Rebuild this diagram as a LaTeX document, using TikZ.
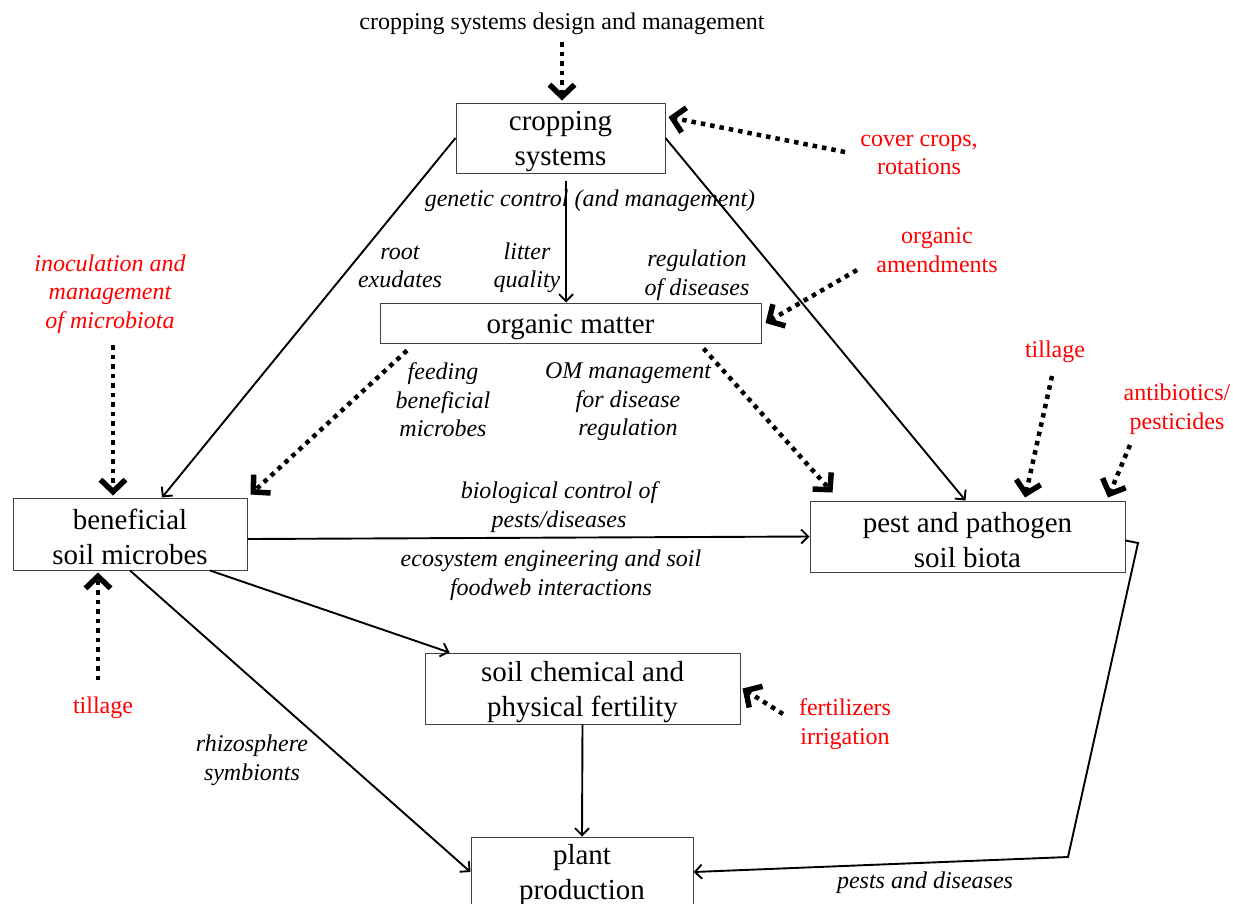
\documentclass[tikz,border=0pt]{standalone}
\usepackage{fontspec}
\setmainfont{Liberation Serif}
\usetikzlibrary{arrows.meta}
\newcommand\boxstrut{\rule{0pt}{26.5pt}}
\tikzset{
  box/.style={draw=black!75, line width=1pt, align=center, inner sep=0pt,
    font=\fontsize{29}{35}\selectfont},
  lbl/.style={align=center, inner sep=0pt, yshift=-3pt, font=\fontsize{24}{28.5}\selectfont\itshape},
  redlbl/.style={align=center, inner sep=0pt, yshift=-3pt, text=red, font=\fontsize{24}{28.5}\selectfont},
  plainlbl/.style={align=center, inner sep=0pt, yshift=-2pt, font=\fontsize{24}{28.5}\selectfont},
  solidarrow/.style={line width=1.9pt, -{Straight Barb[length=7pt,width=14pt,line width=1.9pt]}},
  dotarrow/.style={line width=4.5pt, dash pattern=on 4.5pt off 5pt,
    -{Straight Barb[length=12pt,width=25pt,line width=5.5pt]}}
}
\begin{document}
\begin{tikzpicture}[x=1pt,y=-1pt]
\useasboundingbox (0,0) rectangle (1233,903);

% boxes
\node[box, minimum width=209pt, minimum height=70pt] (cs) at (560.5,138) {\boxstrut cropping\\systems};
\node[box, minimum width=381pt, minimum height=40pt] (om) at (570.5,323) {\boxstrut organic matter};
\node[box, minimum width=234pt, minimum height=72pt] (bm) at (130,534) {\boxstrut beneficial\\soil microbes};
\node[box, minimum width=315pt, minimum height=71pt] (pp) at (967.5,536.5) {\boxstrut pest and pathogen\\soil biota};
\node[box, minimum width=315pt, minimum height=71pt] (sf) at (582.5,688.5) {\boxstrut soil chemical and\\physical fertility};
\node[box, minimum width=222pt, minimum height=70pt] (pl) at (582,872) {\boxstrut plant\\production};

% top label
\node[plainlbl] (top) at (562,22) {cropping systems design and management};

% red labels
\node[redlbl] (cover) at (919,152) {cover crops,\\rotations};
\node[redlbl] (oa) at (937,247) {organic\\amendments};
\node[redlbl, font=\fontsize{24}{28.5}\selectfont\itshape] (inoc) at (110,291) {inoculation and\\management\\of microbiota};
\node[redlbl] (till1) at (1055,349) {tillage};
\node[redlbl] (anti) at (1177,406) {antibiotics/\\pesticides};
\node[redlbl] (till2) at (103,705) {tillage};
\node[redlbl] (fert) at (845,721) {fertilizers\\irrigation};

% italic labels
\node[lbl] (gen) at (590,198) {genetic control (and management)};
\node[lbl] (root) at (400,264) {root\\exudates};
\node[lbl] (litter) at (527,265) {litter\\quality};
\node[lbl] (reg) at (697,272) {regulation\\of diseases};
\node[lbl] (feed) at (443,397) {feeding\\beneficial\\microbes};
\node[lbl] (omm) at (628,399) {OM management\\for disease\\regulation};
\node[lbl] (bio) at (559,504) {biological control of\\pests/diseases};
\node[lbl] (eco) at (551,572) {ecosystem engineering and soil\\foodweb interactions};
\node[lbl] (rhizo) at (252,757) {rhizosphere\\symbionts};
\node[lbl] (pad) at (925,880) {pests and diseases};

% free-end coordinates
\coordinate (topS) at (562,42);
\coordinate (coverS) at (845,152);
\coordinate (oaS) at (857,270);
\coordinate (inocS) at (113,345);
\coordinate (till1S) at (1052,376);
\coordinate (antiS) at (1130,445);
\coordinate (till2S) at (98,680);
\coordinate (fertS) at (783,714);
\coordinate (bend1) at (1138,543);
\coordinate (bend2) at (1068,857);

% solid connectors
\draw[solidarrow] (cs.west) -- ([xshift=32pt]bm.north);
\draw[solidarrow] (cs.east) -- ([xshift=-2pt]pp.north);
\draw[solidarrow, shorten <=7pt] ([xshift=5.5pt]cs.south) -- ([xshift=-4.5pt]om.north);
\draw[solidarrow] ([yshift=-5pt]bm.east) -- (pp.west);
\draw[solidarrow] ([xshift=80pt]bm.south) -- ([xshift=25pt]sf.north west);
\draw[solidarrow] (bm.south) -- (pl.west);
\draw[solidarrow] (sf.south) -- (pl.north);
\draw[solidarrow] ([yshift=-4pt]pp.east) -- (bend1) -- (bend2) -- (pl.east);

% dotted connectors
\draw[dotarrow] (topS) -- ([xshift=1.5pt,yshift=2pt]cs.north);
\draw[dotarrow] (coverS) -- ([xshift=3pt,yshift=21pt]cs.east);
\draw[dotarrow] (oaS) -- ([xshift=4pt]om.east);
\draw[dotarrow] ([xshift=27.5pt,yshift=-7pt]om.south west) -- ([xshift=3pt,yshift=3pt]bm.north east);
\draw[dotarrow] ([xshift=-58pt,yshift=-5pt]om.south east) -- ([xshift=23pt,yshift=8pt]pp.north west);
\draw[dotarrow] (inocS) -- ([xshift=-17pt,yshift=2pt]bm.north);
\draw[dotarrow] (till1S) -- ([xshift=57.5pt,yshift=3pt]pp.north);
\draw[dotarrow] (antiS) -- ([xshift=-17.5pt,yshift=3pt]pp.north east);
\draw[dotarrow] (till2S) -- ([xshift=-32pt,yshift=-2pt]bm.south);
\draw[dotarrow] (fertS) -- ([xshift=2pt]sf.east);
\end{tikzpicture}
\end{document}
